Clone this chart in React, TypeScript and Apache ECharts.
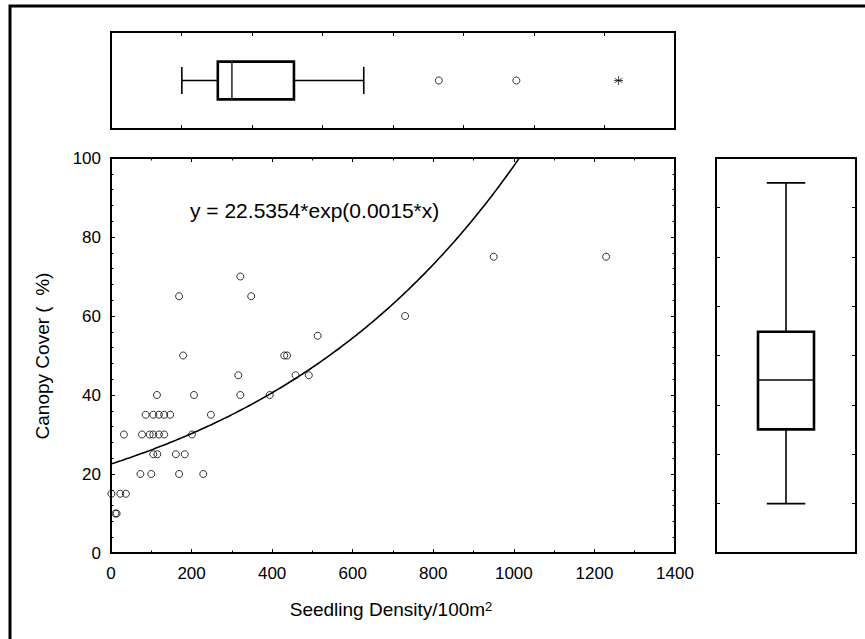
import React, { useEffect, useRef } from "react";
import * as echarts from "echarts";

// Scatter data: seedling density (per 100 m^2) vs canopy cover (%)
const densityX = [
  1, 23, 37, 11, 14,
  73, 100, 169, 229,
  105, 115, 161, 183,
  32, 77, 96, 105, 119, 132, 201,
  86, 105, 119, 132, 147, 248,
  114, 206, 321, 394,
  316, 458, 491,
  179, 430, 437,
  513,
  730,
  169, 348,
  321,
  950, 1229,
];
const coverY = [
  15, 15, 15, 10, 10,
  20, 20, 20, 20,
  25, 25, 25, 25,
  30, 30, 30, 30, 30, 30, 30,
  35, 35, 35, 35, 35, 35,
  40, 40, 40, 40,
  45, 45, 45,
  50, 50, 50,
  55,
  60,
  65, 65,
  70,
  75, 75,
];

// Fitted exponential (label shows rounded coefficient)
const FIT_A = 22.5354;
const FIT_B = 0.00147;
const FIT_LABEL = "y = 22.5354*exp(0.0015*x)";

// Tick values (main plot)
const xTicks = [0, 200, 400, 600, 800, 1000, 1200, 1400];
const yTicks = [0, 20, 40, 60, 80, 100];

// Top marginal boxplot (own scale 0..1600): [min, Q1, median, Q3, max]
const topBox = [201, 303, 343, 519, 717];
const topOutliers = [930, 1150];
const topExtremes = [1440];

// Right marginal boxplot (scale 0..100): [min, Q1, median, Q3, max]
const rightBox = [12.5, 31.3, 43.8, 56, 93.7];

const FONT = '"Liberation Sans", Arial, Helvetica, sans-serif';

export default function App() {
  const ref = useRef<HTMLDivElement>(null);

  useEffect(() => {
    if (!ref.current) return;
    const chart = echarts.init(ref.current, undefined, { renderer: "svg" });

    const scatterData = densityX.map((x, i) => [x, coverY[i]]);
    const curve: number[][] = [];
    for (let x = 0; x <= 1040; x += 5) {
      curve.push([x, FIT_A * Math.exp(FIT_B * x)]);
    }

    const tickInside = (len: number) => ({
      show: true,
      inside: true,
      length: len,
      lineStyle: { color: "#000", width: 1 },
    });
    const noLine = { show: false, onZero: false };

    const hBoxRender = (params: any, api: any) => {
      const vals = [0, 1, 2, 3, 4].map((i) => api.value(i));
      const p = vals.map((v: number) => api.coord([v, 0.5]));
      const cy = p[0][1];
      const half = api.size([0, 0.39])[1] / 2;
      const cap = api.size([0, 0.28])[1] / 2;
      const thin = { stroke: "#000", lineWidth: 1.6, fill: "none" };
      const thick = { stroke: "#000", lineWidth: 2.6, fill: "none" };
      return {
        type: "group",
        children: [
          { type: "line", shape: { x1: p[0][0], y1: cy, x2: p[1][0], y2: cy }, style: thin },
          { type: "line", shape: { x1: p[3][0], y1: cy, x2: p[4][0], y2: cy }, style: thin },
          { type: "line", shape: { x1: p[0][0], y1: cy - cap, x2: p[0][0], y2: cy + cap }, style: thin },
          { type: "line", shape: { x1: p[4][0], y1: cy - cap, x2: p[4][0], y2: cy + cap }, style: thin },
          { type: "rect", shape: { x: p[1][0], y: cy - half, width: p[3][0] - p[1][0], height: half * 2 }, style: thick },
          { type: "line", shape: { x1: p[2][0], y1: cy - half, x2: p[2][0], y2: cy + half }, style: { stroke: "#333", lineWidth: 1.6 } },
        ],
      };
    };

    const vBoxRender = (params: any, api: any) => {
      const vals = [0, 1, 2, 3, 4].map((i) => api.value(i));
      const p = vals.map((v: number) => api.coord([0.5, v]));
      const cx = p[0][0];
      const half = api.size([0.4, 0])[0] / 2;
      const cap = api.size([0.275, 0])[0] / 2;
      const thin = { stroke: "#000", lineWidth: 1.6, fill: "none" };
      const thick = { stroke: "#000", lineWidth: 2.6, fill: "none" };
      return {
        type: "group",
        children: [
          { type: "line", shape: { x1: cx, y1: p[0][1], x2: cx, y2: p[1][1] }, style: thin },
          { type: "line", shape: { x1: cx, y1: p[3][1], x2: cx, y2: p[4][1] }, style: thin },
          { type: "line", shape: { x1: cx - cap, y1: p[0][1], x2: cx + cap, y2: p[0][1] }, style: thin },
          { type: "line", shape: { x1: cx - cap, y1: p[4][1], x2: cx + cap, y2: p[4][1] }, style: thin },
          { type: "rect", shape: { x: cx - half, y: p[3][1], width: half * 2, height: p[1][1] - p[3][1] }, style: thick },
          { type: "line", shape: { x1: cx - half, y1: p[2][1], x2: cx + half, y2: p[2][1] }, style: { stroke: "#000", lineWidth: 1.6 } },
        ],
      };
    };

    const option: any = {
      animation: false,
      backgroundColor: "#fff",
      textStyle: { fontFamily: FONT },
      grid: [
        { left: 111, top: 158, width: 564, height: 395, show: true, borderColor: "#000", borderWidth: 2, backgroundColor: "transparent" },
        { left: 111, top: 32, width: 564, height: 97, show: true, borderColor: "#000", borderWidth: 2, backgroundColor: "transparent" },
        { left: 716, top: 158, width: 140, height: 395, show: true, borderColor: "#000", borderWidth: 2, backgroundColor: "transparent" },
      ],
      xAxis: [
        {
          type: "value", gridIndex: 0, position: "bottom", min: xTicks[0], max: xTicks[xTicks.length - 1], interval: 200,
          axisLine: noLine, axisTick: tickInside(4),
          minorTick: { show: true, splitNumber: 2, length: 2.5, lineStyle: { color: "#000", width: 1 } },
          axisLabel: { color: "#000", fontSize: 17, fontFamily: FONT, margin: 12, formatter: (v: number) => String(v) },
          splitLine: { show: false },
        },
        {
          type: "value", gridIndex: 0, position: "top", min: 0, max: 1400, interval: 200,
          axisLine: noLine, axisTick: tickInside(4),
          minorTick: { show: true, splitNumber: 2, length: 2.5, lineStyle: { color: "#000", width: 1 } },
          axisLabel: { show: false }, splitLine: { show: false },
        },
        {
          type: "value", gridIndex: 1, position: "bottom", min: 0, max: 1600, interval: 200,
          axisLine: noLine, axisTick: tickInside(4), axisLabel: { show: false }, splitLine: { show: false },
        },
        {
          type: "value", gridIndex: 1, position: "top", min: 0, max: 1600, interval: 200,
          axisLine: noLine, axisTick: tickInside(4), axisLabel: { show: false }, splitLine: { show: false },
        },
        { type: "value", gridIndex: 2, min: 0, max: 1, show: false },
      ],
      yAxis: [
        {
          type: "value", gridIndex: 0, position: "left", min: yTicks[0], max: yTicks[yTicks.length - 1], interval: 20,
          axisLine: noLine, axisTick: tickInside(4),
          minorTick: { show: true, splitNumber: 5, length: 2.5, lineStyle: { color: "#000", width: 1 } },
          axisLabel: { color: "#000", fontSize: 17, fontFamily: FONT, margin: 10, formatter: (v: number) => String(v) },
          splitLine: { show: false },
        },
        {
          type: "value", gridIndex: 0, position: "right", min: 0, max: 100, interval: 20,
          axisLine: noLine, axisTick: tickInside(4),
          minorTick: { show: true, splitNumber: 5, length: 2.5, lineStyle: { color: "#000", width: 1 } },
          axisLabel: { show: false }, splitLine: { show: false },
        },
        { type: "value", gridIndex: 1, min: 0, max: 1, show: false },
        {
          type: "value", gridIndex: 2, position: "left", min: 0, max: 100, interval: 12.5,
          axisLine: noLine, axisTick: tickInside(4), axisLabel: { show: false }, splitLine: { show: false },
        },
        {
          type: "value", gridIndex: 2, position: "right", min: 0, max: 100, interval: 12.5,
          axisLine: noLine, axisTick: tickInside(4), axisLabel: { show: false }, splitLine: { show: false },
        },
      ],
      series: [
        {
          type: "line", xAxisIndex: 0, yAxisIndex: 0, data: curve, showSymbol: false, smooth: false,
          clip: true, lineStyle: { color: "#000", width: 1.6 }, silent: true, z: 3,
        },
        {
          type: "scatter", xAxisIndex: 0, yAxisIndex: 0, data: scatterData, symbol: "circle", symbolSize: 7,
          itemStyle: { color: "transparent", borderColor: "#000", borderWidth: 1 }, z: 4,
        },
        {
          type: "custom", xAxisIndex: 2, yAxisIndex: 2, renderItem: hBoxRender, data: [topBox], z: 4,
        },
        {
          type: "scatter", xAxisIndex: 2, yAxisIndex: 2, data: topOutliers.map((v) => [v, 0.5]),
          symbol: "circle", symbolSize: 7, itemStyle: { color: "transparent", borderColor: "#000", borderWidth: 1 },
        },
        {
          type: "scatter", xAxisIndex: 2, yAxisIndex: 2, data: topExtremes.map((v) => [v, 0.5]),
          symbol: "path://M0,-5L0,5M-4.33,-2.5L4.33,2.5M-4.33,2.5L4.33,-2.5M-5,0L5,0", symbolSize: 9,
          itemStyle: { color: "none", borderColor: "#000", borderWidth: 0.9 },
        },
        {
          type: "custom", xAxisIndex: 4, yAxisIndex: 3, renderItem: vBoxRender, data: [rightBox], z: 4,
        },
      ],
      graphic: [
        {
          type: "rect", shape: { x: 10, y: 6, width: 1000, height: 1000 },
          style: { fill: "none", stroke: "#000", lineWidth: 3 }, silent: true,
        },
        {
          type: "text", left: 190, top: 200,
          style: { text: FIT_LABEL, fill: "#000", font: `21px ${FONT}` },
        },
        {
          type: "text", x: 42, y: 356, rotation: Math.PI / 2,
          style: { text: "Canopy Cover (  %)", fill: "#000", font: `19px ${FONT}`, align: "center", verticalAlign: "middle" },
        },
        {
          type: "text", x: 391, y: 609,
          style: {
            text: "{a|Seedling Density/100m}{b|2}",
            align: "center", verticalAlign: "middle", fill: "#000",
            rich: {
              a: { fontSize: 19, fontFamily: FONT, fill: "#000" },
              b: { fontSize: 13, fontFamily: FONT, fill: "#000", verticalAlign: "top" },
            },
          },
        },
      ],
    };

    chart.setOption(option);
    return () => chart.dispose();
  }, []);

  return (
    <div
      ref={ref}
      style={{ position: "absolute", left: 0, top: 0, width: 865, height: 639, background: "#fff" }}
    />
  );
}
